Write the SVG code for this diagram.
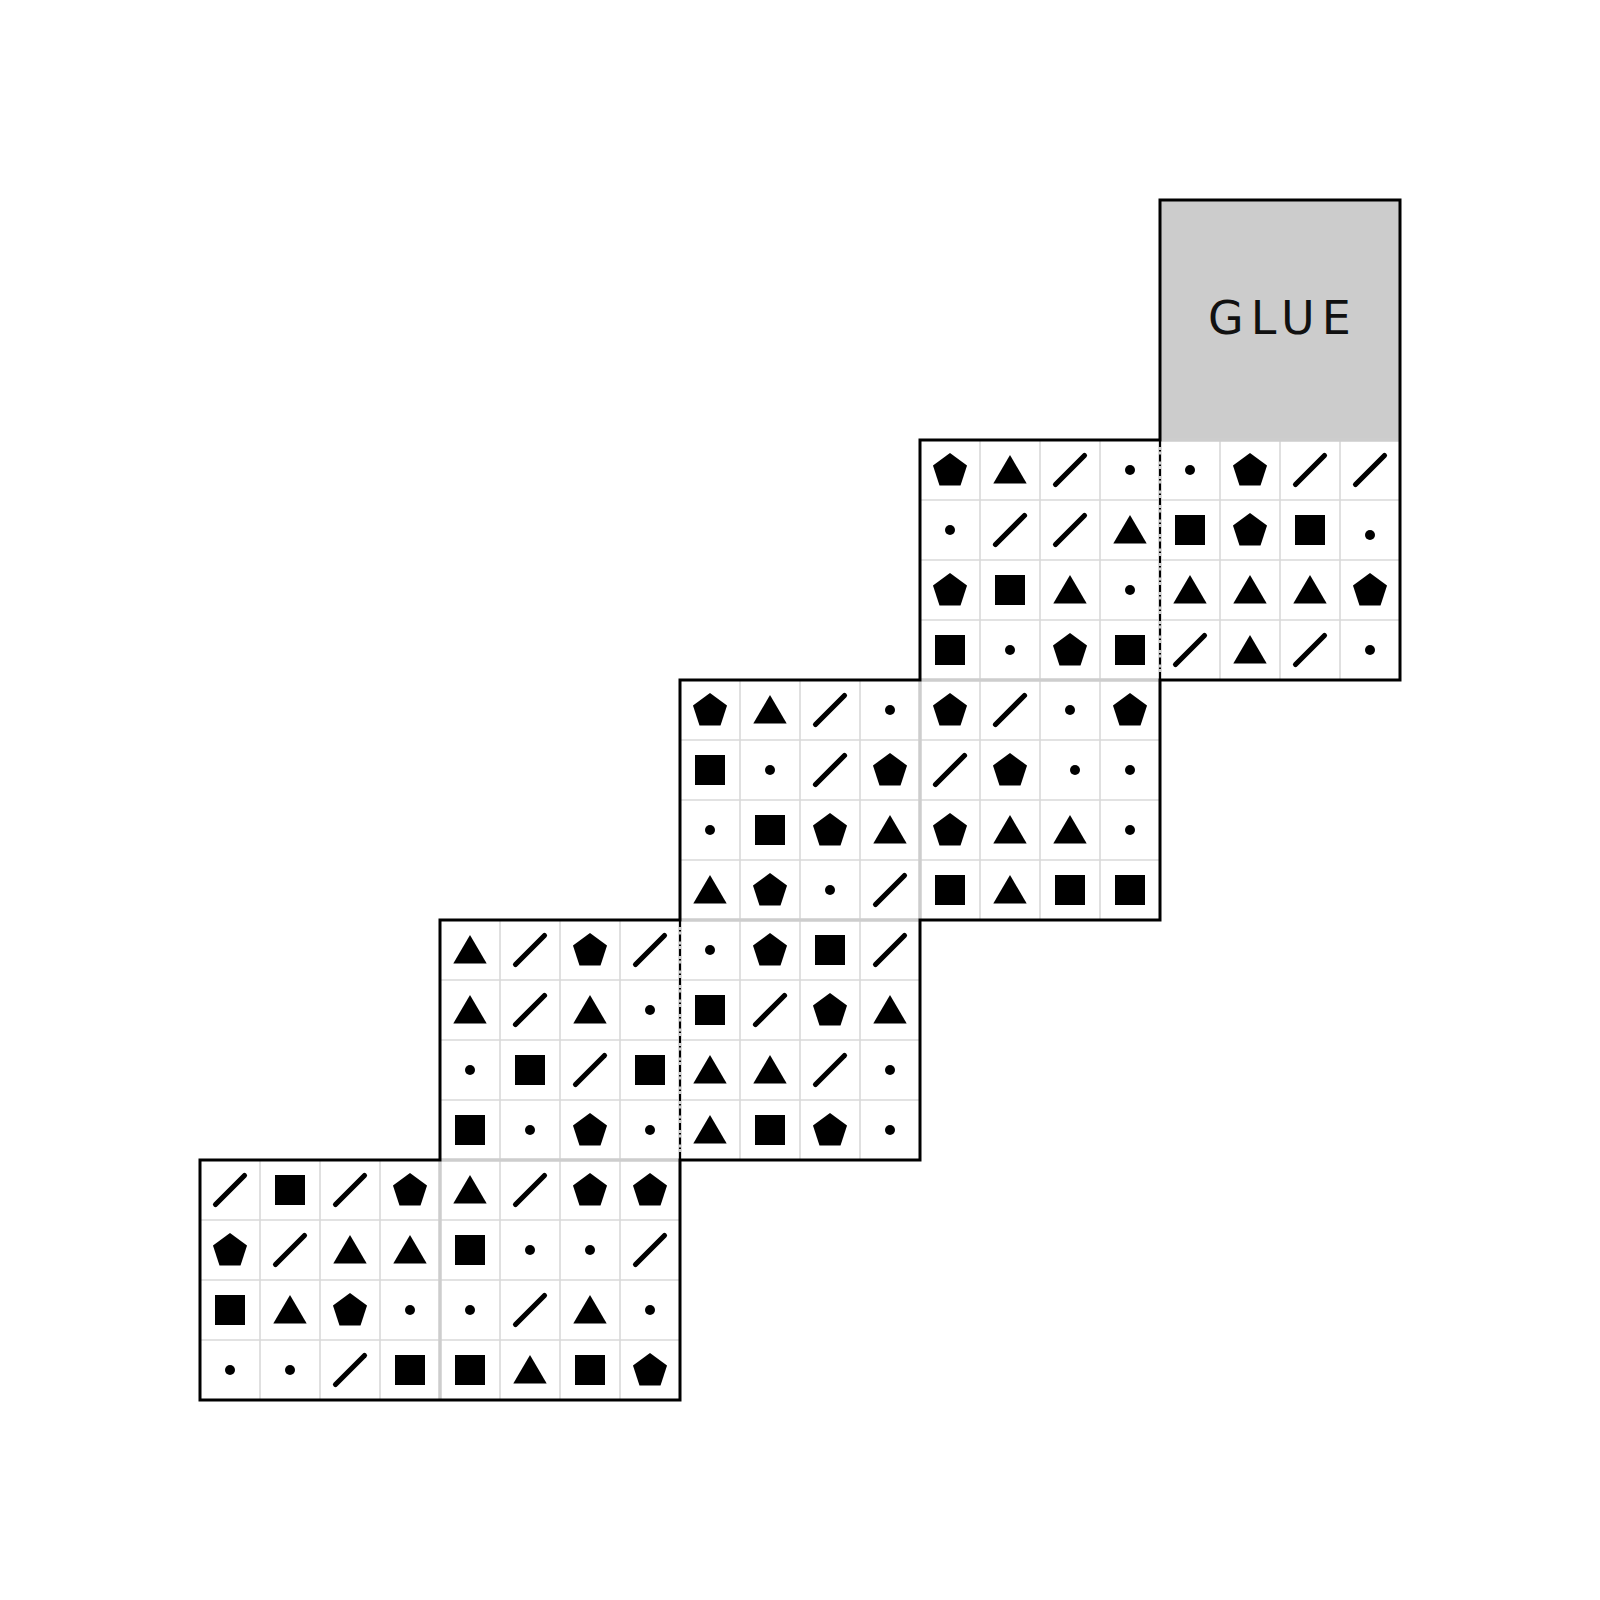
<svg xmlns="http://www.w3.org/2000/svg" width="1600" height="1600" viewBox="0 0 1600 1600">
<style>
.bg{fill:#fff}
.face{fill:#fff}
.grid{stroke:#d9d9d9;stroke-width:1.6;fill:none}
.seam{stroke:#cdcdcd;stroke-width:3.5;fill:none}
.fold{stroke:#000;stroke-width:2;stroke-dasharray:7 3 1.5 3;fill:none}
.outline{stroke:#000;stroke-width:3;fill:none;stroke-linejoin:miter}
.glue-text{font-family:"DejaVu Sans",sans-serif;font-size:46px;letter-spacing:7px;fill:#111}
.sl{stroke:#000;stroke-width:5.2;stroke-linecap:round}
</style>
<defs>
<polygon id="p" points="0,-16.9 17.02,-4.53 10.52,15.48 -10.52,15.48 -17.02,-4.53"/>
<polygon id="t" points="0,-15 16.7,13.5 -16.7,13.5"/>
<rect id="q" x="-15" y="-15" width="30" height="30"/>
<circle id="d" r="5"/>
<line id="s" class="sl" x1="-14.5" y1="14.5" x2="14.5" y2="-14.5"/>
</defs>
<rect class="bg" x="0" y="0" width="1600" height="1600"/>

<g id="glue">
<rect x="1160" y="200" width="240" height="240" fill="#cccccc"/>
<text class="glue-text" x="1208" y="334">GLUE</text>
</g>

<g id="face-1a">
<rect class="face" x="920" y="440" width="240" height="240"/>
<path class="grid" d="M980 440V680M1040 440V680M1100 440V680M920 500H1160M920 560H1160M920 620H1160"/>
<use href="#p" x="950" y="470"/><use href="#t" x="1010" y="470"/><use href="#s" x="1070" y="470"/><use href="#d" x="1130" y="470"/>
<use href="#d" x="950" y="530"/><use href="#s" x="1010" y="530"/><use href="#s" x="1070" y="530"/><use href="#t" x="1130" y="530"/>
<use href="#p" x="950" y="590"/><use href="#q" x="1010" y="590"/><use href="#t" x="1070" y="590"/><use href="#d" x="1130" y="590"/>
<use href="#q" x="950" y="650"/><use href="#d" x="1010" y="650"/><use href="#p" x="1070" y="650"/><use href="#q" x="1130" y="650"/>
</g>

<g id="face-1b">
<rect class="face" x="1160" y="440" width="240" height="240"/>
<path class="grid" d="M1220 440V680M1280 440V680M1340 440V680M1160 500H1400M1160 560H1400M1160 620H1400"/>
<use href="#d" x="1190" y="470"/><use href="#p" x="1250" y="470"/><use href="#s" x="1310" y="470"/><use href="#s" x="1370" y="470"/>
<use href="#q" x="1190" y="530"/><use href="#p" x="1250" y="530"/><use href="#q" x="1310" y="530"/><use href="#d" x="1370" y="535"/>
<use href="#t" x="1190" y="590"/><use href="#t" x="1250" y="590"/><use href="#t" x="1310" y="590"/><use href="#p" x="1370" y="590"/>
<use href="#s" x="1190" y="650"/><use href="#t" x="1250" y="650"/><use href="#s" x="1310" y="650"/><use href="#d" x="1370" y="650"/>
</g>

<g id="face-2a">
<rect class="face" x="680" y="680" width="240" height="240"/>
<path class="grid" d="M740 680V920M800 680V920M860 680V920M680 740H920M680 800H920M680 860H920"/>
<use href="#p" x="710" y="710"/><use href="#t" x="770" y="710"/><use href="#s" x="830" y="710"/><use href="#d" x="890" y="710"/>
<use href="#q" x="710" y="770"/><use href="#d" x="770" y="770"/><use href="#s" x="830" y="770"/><use href="#p" x="890" y="770"/>
<use href="#d" x="710" y="830"/><use href="#q" x="770" y="830"/><use href="#p" x="830" y="830"/><use href="#t" x="890" y="830"/>
<use href="#t" x="710" y="890"/><use href="#p" x="770" y="890"/><use href="#d" x="830" y="890"/><use href="#s" x="890" y="890"/>
</g>

<g id="face-2b">
<rect class="face" x="920" y="680" width="240" height="240"/>
<path class="grid" d="M980 680V920M1040 680V920M1100 680V920M920 740H1160M920 800H1160M920 860H1160"/>
<use href="#p" x="950" y="710"/><use href="#s" x="1010" y="710"/><use href="#d" x="1070" y="710"/><use href="#p" x="1130" y="710"/>
<use href="#s" x="950" y="770"/><use href="#p" x="1010" y="770"/><use href="#d" x="1075" y="770"/><use href="#d" x="1130" y="770"/>
<use href="#p" x="950" y="830"/><use href="#t" x="1010" y="830"/><use href="#t" x="1070" y="830"/><use href="#d" x="1130" y="830"/>
<use href="#q" x="950" y="890"/><use href="#t" x="1010" y="890"/><use href="#q" x="1070" y="890"/><use href="#q" x="1130" y="890"/>
</g>

<g id="face-3a">
<rect class="face" x="440" y="920" width="240" height="240"/>
<path class="grid" d="M500 920V1160M560 920V1160M620 920V1160M440 980H680M440 1040H680M440 1100H680"/>
<use href="#t" x="470" y="950"/><use href="#s" x="530" y="950"/><use href="#p" x="590" y="950"/><use href="#s" x="650" y="950"/>
<use href="#t" x="470" y="1010"/><use href="#s" x="530" y="1010"/><use href="#t" x="590" y="1010"/><use href="#d" x="650" y="1010"/>
<use href="#d" x="470" y="1070"/><use href="#q" x="530" y="1070"/><use href="#s" x="590" y="1070"/><use href="#q" x="650" y="1070"/>
<use href="#q" x="470" y="1130"/><use href="#d" x="530" y="1130"/><use href="#p" x="590" y="1130"/><use href="#d" x="650" y="1130"/>
</g>

<g id="face-3b">
<rect class="face" x="680" y="920" width="240" height="240"/>
<path class="grid" d="M740 920V1160M800 920V1160M860 920V1160M680 980H920M680 1040H920M680 1100H920"/>
<use href="#d" x="710" y="950"/><use href="#p" x="770" y="950"/><use href="#q" x="830" y="950"/><use href="#s" x="890" y="950"/>
<use href="#q" x="710" y="1010"/><use href="#s" x="770" y="1010"/><use href="#p" x="830" y="1010"/><use href="#t" x="890" y="1010"/>
<use href="#t" x="710" y="1070"/><use href="#t" x="770" y="1070"/><use href="#s" x="830" y="1070"/><use href="#d" x="890" y="1070"/>
<use href="#t" x="710" y="1130"/><use href="#q" x="770" y="1130"/><use href="#p" x="830" y="1130"/><use href="#d" x="890" y="1130"/>
</g>

<g id="face-4a">
<rect class="face" x="200" y="1160" width="240" height="240"/>
<path class="grid" d="M260 1160V1400M320 1160V1400M380 1160V1400M200 1220H440M200 1280H440M200 1340H440"/>
<use href="#s" x="230" y="1190"/><use href="#q" x="290" y="1190"/><use href="#s" x="350" y="1190"/><use href="#p" x="410" y="1190"/>
<use href="#p" x="230" y="1250"/><use href="#s" x="290" y="1250"/><use href="#t" x="350" y="1250"/><use href="#t" x="410" y="1250"/>
<use href="#q" x="230" y="1310"/><use href="#t" x="290" y="1310"/><use href="#p" x="350" y="1310"/><use href="#d" x="410" y="1310"/>
<use href="#d" x="230" y="1370"/><use href="#d" x="290" y="1370"/><use href="#s" x="350" y="1370"/><use href="#q" x="410" y="1370"/>
</g>

<g id="face-4b">
<rect class="face" x="440" y="1160" width="240" height="240"/>
<path class="grid" d="M500 1160V1400M560 1160V1400M620 1160V1400M440 1220H680M440 1280H680M440 1340H680"/>
<use href="#t" x="470" y="1190"/><use href="#s" x="530" y="1190"/><use href="#p" x="590" y="1190"/><use href="#p" x="650" y="1190"/>
<use href="#q" x="470" y="1250"/><use href="#d" x="530" y="1250"/><use href="#d" x="590" y="1250"/><use href="#s" x="650" y="1250"/>
<use href="#d" x="470" y="1310"/><use href="#s" x="530" y="1310"/><use href="#t" x="590" y="1310"/><use href="#d" x="650" y="1310"/>
<use href="#q" x="470" y="1370"/><use href="#t" x="530" y="1370"/><use href="#q" x="590" y="1370"/><use href="#p" x="650" y="1370"/>
</g>

<g id="connectors">
<path class="seam" d="M920 680V920M440 1160V1400M920 680H1160M680 920H920M440 1160H680M1160 440H1400M1160 440V680M680 920V1160"/>
<path class="fold" d="M1160 440V680M680 920V1160"/>
<path class="outline" d="M200 1160H440V920H680V680H920V440H1160V200H1400V680H1160V920H920V1160H680V1400H200Z"/>
</g>
</svg>
